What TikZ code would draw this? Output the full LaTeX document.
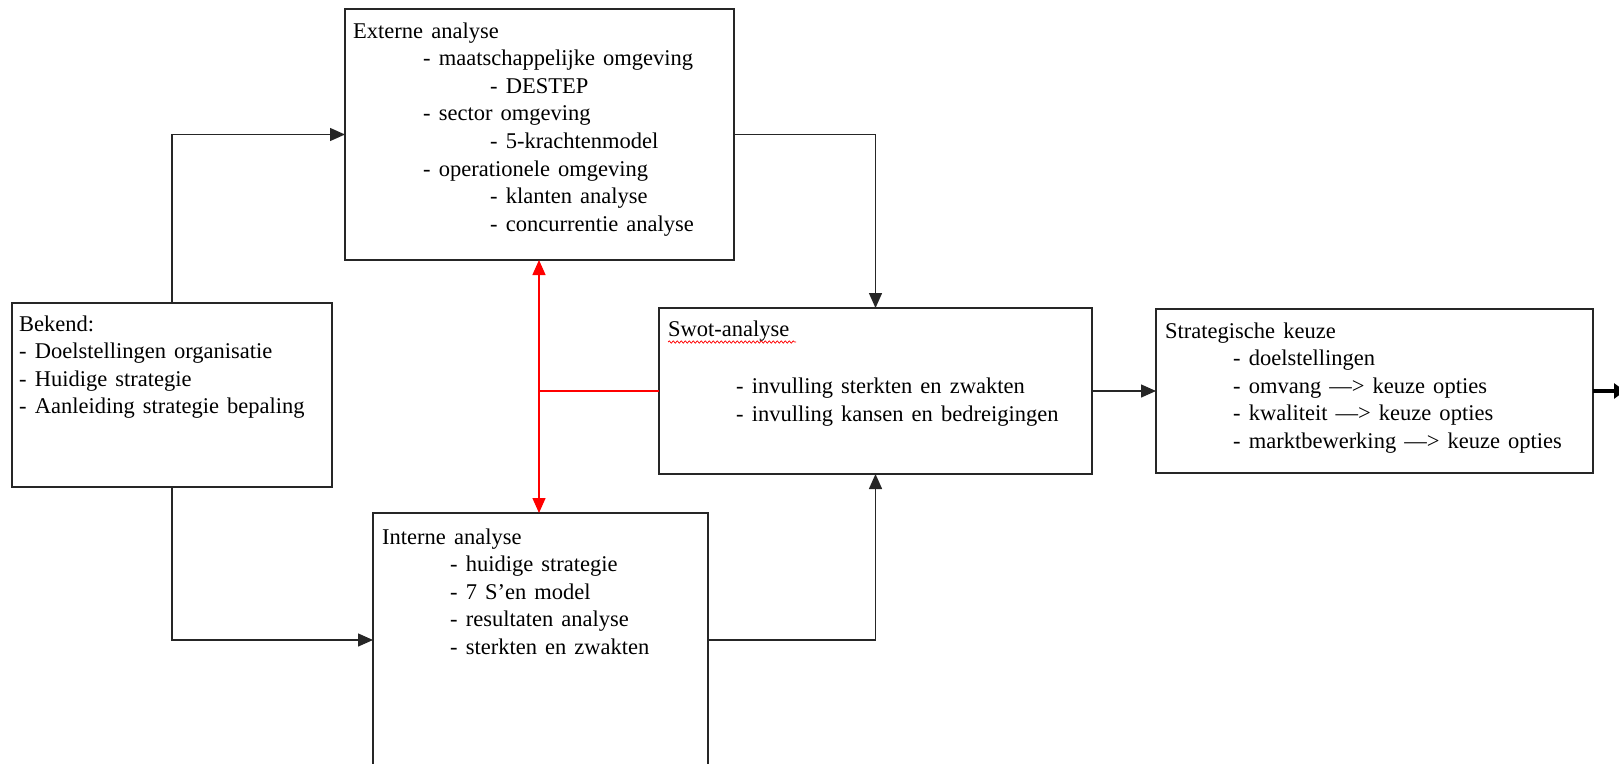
\documentclass[tikz,border=0pt]{standalone}
\usepackage{fontspec}
\setmainfont{Liberation Serif}
\usetikzlibrary{arrows.meta,decorations.pathmorphing}

% wider inter-word spacing for the box texts
\newcommand{\widespacing}{\spaceskip=0.36em plus 0.1em minus 0.05em\relax}
\newcommand{\boxtext}[2]{\parbox[t]{#1}{\widespacing #2}}

\tikzset{
  box/.style={draw=black!85, line width=1.4pt, inner sep=0pt, outer sep=0pt, anchor=north west},
  lines/.style={anchor=base west, inner sep=0pt,
    font=\fontsize{22.5}{27.6}\selectfont},
  conn/.style={draw=black!85, line width=1.4pt,
    -{Triangle[length=15pt,width=13pt]}},
  redconn/.style={draw=red, line width=1.4pt,
    {Triangle[length=15pt,width=13pt]}-{Triangle[length=15pt,width=13pt]}},
  redline/.style={draw=red, line width=1.2pt},
  exitarrow/.style={draw=black, line width=3.5pt,
    -{Triangle[length=11pt,width=15pt]}},
}

\begin{document}
\begin{tikzpicture}[x=1pt,y=-1pt]
  \useasboundingbox (0,0) rectangle (1619,763);
  \clip (0,0) rectangle (1619,763);

  % boxes
  \node[box, minimum width=389pt, minimum height=251pt] (ext) at (345,9) {};
  \node[box, minimum width=320pt, minimum height=184pt] (bek) at (12,303) {};
  \node[box, minimum width=335pt, minimum height=320pt] (int) at (373,513) {};
  \node[box, minimum width=433pt, minimum height=166pt] (swot) at (659,308) {};
  \node[box, minimum width=437pt, minimum height=164pt] (strat) at (1156,309) {};

  % box texts
  \node[lines] (ext-t) at (353,38) {\boxtext{380pt}{Externe analyse\\
    \hspace*{70pt}- maatschappelijke omgeving\\
    \hspace*{137pt}- DESTEP\\
    \hspace*{70pt}- sector omgeving\\
    \hspace*{137pt}- 5-krachtenmodel\\
    \hspace*{70pt}- operationele omgeving\\
    \hspace*{137pt}- klanten analyse\\
    \hspace*{137pt}- concurrentie analyse}};

  \node[lines] (bek-t) at (19,331) {\boxtext{310pt}{Bekend:\\
    - Doelstellingen organisatie\\
    - Huidige strategie\\
    - Aanleiding strategie bepaling}};

  \node[lines] (int-t) at (382,544) {\boxtext{320pt}{Interne analyse\\
    \hspace*{68pt}- huidige strategie\\
    \hspace*{68pt}- 7 S’en model\\
    \hspace*{68pt}- resultaten analyse\\
    \hspace*{68pt}- sterkten en zwakten}};

  \node[lines] (swot-t) at (668,336) {\boxtext{420pt}{Swot-analyse\\[30pt]
    \hspace*{68pt}- invulling sterkten en zwakten\\
    \hspace*{68pt}- invulling kansen en bedreigingen}};

  \node[lines] (strat-t) at (1165,338) {\boxtext{425pt}{Strategische keuze\\
    \hspace*{68pt}- doelstellingen\\
    \hspace*{68pt}- omvang —> keuze opties\\
    \hspace*{68pt}- kwaliteit —> keuze opties\\
    \hspace*{68pt}- marktbewerking —> keuze opties}};

  % spell-check underline
  \draw[draw=red, line width=0.7pt, decorate,
        decoration={snake, amplitude=1.2pt, segment length=4pt}]
    ([yshift=-6pt]swot-t.base west) -- ++(128,0);

  % connectors
  \draw[conn] (bek.north) |- (ext.west);
  \draw[conn] (bek.south) |- ([yshift=-127pt]int.north west);
  \draw[conn] (ext.east) -| (swot.north);
  \draw[conn] ([yshift=-127pt]int.north east) -| (swot.south);
  \draw[conn] (swot.east) -- (strat.west);
  \draw[exitarrow] (strat.east) -- ++(32,0);

  % link between the analyses
  \coordinate (rj) at (539,391);
  \draw[redline] (swot.west) -- (swot.west -| rj);
  \draw[redconn] (ext.south -| rj) -- (int.north -| rj);
\end{tikzpicture}
\end{document}
